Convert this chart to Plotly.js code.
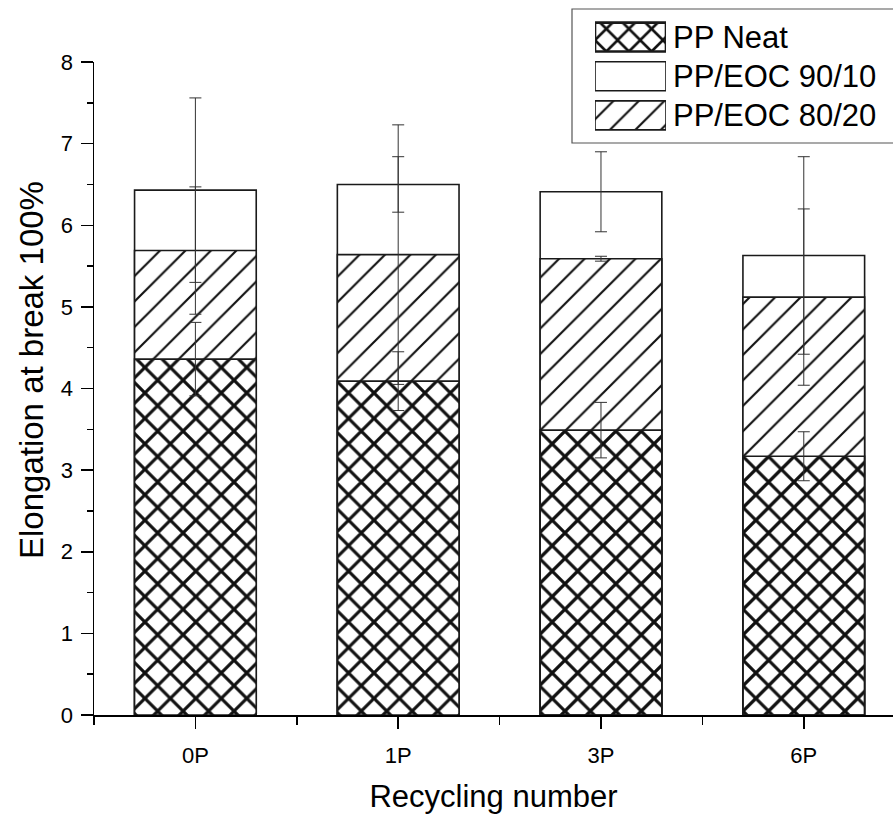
<!DOCTYPE html>
<html><head><meta charset="utf-8">
<script src="https://cdn.plot.ly/plotly-3.0.1.min.js"></script>
<style>html,body{margin:0;padding:0;background:#fff}</style>
</head><body><div id="chart" style="width:893px;height:814px"></div>
<script>
const categories = ['0P', '1P', '3P', '6P'];
const seriesNames = ['PP Neat', 'PP/EOC 90/10', 'PP/EOC 80/20'];
const neat = [4.36, 4.09, 3.49, 3.17];
const neatErr = [0.45, 0.36, 0.34, 0.30];
const eoc9010 = [6.43, 6.50, 6.41, 5.63];
const eoc9010Err = [1.13, 0.34, 0.49, 1.21];
const eoc8020 = [5.69, 5.64, 5.59, 5.12];
const eoc8020Err = [0.78, 1.59, 0.03, 1.08];
const yTicks = [0, 1, 2, 3, 4, 5, 6, 7, 8];

const W = 893, H = 814;
const FONT = 'Liberation Sans, Arial, sans-serif';
const xIdx = categories.map((_, i) => i);
const lineCol = '#1a1a1a';
const barLine = {color: lineCol, width: 1.6};
const barW = 0.6;

// in the original, the PP Neat bars of 3P and 6P have a see-through background
const neatOpaque = [true, true, false, false];

const crossPat = bg => ({shape: 'x', size: 18, solidity: 0.32, fgcolor: '#111', bgcolor: bg, fillmode: 'replace'});
const slashPat = {shape: '/', size: 18, solidity: 0.12, fgcolor: '#111', bgcolor: 'white', fillmode: 'replace'};

const traces = [
  {type: 'bar', name: seriesNames[1], x: xIdx, y: eoc9010, width: barW,
   marker: {color: 'white', line: barLine}, showlegend: false},
  {type: 'bar', name: seriesNames[2], x: xIdx, y: eoc8020, width: barW,
   marker: {color: 'white', line: barLine, pattern: slashPat}, showlegend: false},
  {type: 'bar', name: seriesNames[0], x: xIdx, y: neat.map((v, i) => neatOpaque[i] ? v : null), width: barW,
   marker: {color: 'white', line: barLine, pattern: crossPat('white')}, showlegend: false},
  {type: 'bar', name: seriesNames[0], x: xIdx, y: neat.map((v, i) => neatOpaque[i] ? null : v), width: barW,
   marker: {color: 'rgba(0,0,0,0)', line: barLine, pattern: crossPat('rgba(0,0,0,0)')}, showlegend: false}
];

const errStyle = {type: 'data', visible: true, color: '#333', thickness: 1, width: 6};
[[eoc9010, eoc9010Err], [eoc8020, eoc8020Err], [neat, neatErr]].forEach(([v, e]) => {
  traces.push({type: 'scatter', mode: 'markers', x: xIdx, y: v,
    marker: {size: 1, opacity: 0}, showlegend: false, hoverinfo: 'skip',
    error_y: Object.assign({array: e}, errStyle)});
});

// legend swatches
const swatchStyles = [
  {color: 'white', line: {color: lineCol, width: 2.6},
   pattern: {shape: 'x', size: 16, solidity: 0.3, fgcolor: '#111', bgcolor: 'white', fillmode: 'replace'}},
  {color: 'white', line: {color: lineCol, width: 1.6}},
  {color: 'white', line: {color: lineCol, width: 1.6}, pattern: slashPat}
];
seriesNames.forEach((n, k) => {
  traces.push({type: 'bar', orientation: 'h', xaxis: 'x2', yaxis: 'y2',
    y: [n], x: [1], base: 0, width: 0.74, marker: swatchStyles[k],
    showlegend: false, hoverinfo: 'skip'});
});

const px = v => v / W;
const py = v => 1 - v / H;

const layout = {
  width: W, height: H,
  margin: {l: 0, r: 0, t: 0, b: 0, autoexpand: false},
  paper_bgcolor: 'white', plot_bgcolor: 'white',
  barmode: 'overlay',
  showlegend: false,
  font: {family: FONT, color: '#000', size: 22},
  xaxis: {
    domain: [px(94), 1], range: [-0.5, 3.44], anchor: 'y',
    tickmode: 'array', tickvals: xIdx, ticktext: categories,
    ticks: 'outside', ticklen: 12, tickwidth: 1.5, tickcolor: '#000',
    showline: true, linecolor: '#000', linewidth: 1.5,
    showgrid: false, zeroline: false, automargin: false,
    ticklabelstandoff: 8,
    tickfont: {size: 22, family: FONT, color: '#000'},
    minor: {tickmode: 'array', tickvals: [-0.5, 0.5, 1.5, 2.5], ticks: 'outside', ticklen: 8, tickwidth: 1.5, tickcolor: '#000', showgrid: false},
    title: {text: 'Recycling number', font: {size: 31, family: FONT, color: '#000'}, standoff: 18}
  },
  yaxis: {
    domain: [1 - 715 / H, 1 - 62 / H], range: [0, 8], anchor: 'x',
    tickmode: 'array', tickvals: yTicks,
    ticks: 'outside', ticklen: 12, tickwidth: 1.5, tickcolor: '#000',
    showline: true, linecolor: '#000', linewidth: 1.5,
    showgrid: false, zeroline: false, automargin: false,
    ticklabelstandoff: 3,
    tickfont: {size: 22, family: FONT, color: '#000'},
    minor: {tickmode: 'array', tickvals: [0.5, 1.5, 2.5, 3.5, 4.5, 5.5, 6.5, 7.5], ticks: 'outside', ticklen: 6, tickwidth: 1.5, tickcolor: '#000', showgrid: false}
  },
  xaxis2: {domain: [px(595), px(666)], range: [0, 1], anchor: 'y2', visible: false, fixedrange: true},
  yaxis2: {
    domain: [py(135), py(17.5)], anchor: 'x2', side: 'right',
    type: 'category', categoryorder: 'array', categoryarray: seriesNames,
    range: [2.5, -0.5], showline: false, showgrid: false, zeroline: false,
    ticks: '', ticklabelstandoff: 6, automargin: false,
    tickfont: {size: 31, family: FONT, color: '#000'}
  },
  annotations: [
    {text: 'Elongation at break 100%', xref: 'paper', yref: 'paper', x: px(31), y: py(370),
     xanchor: 'center', yanchor: 'middle', textangle: -90, showarrow: false,
     font: {size: 33, family: FONT, color: '#000'}}
  ],
  shapes: [
    {type: 'rect', xref: 'paper', yref: 'paper', x0: px(572), x1: 1.01, y0: py(143), y1: py(9),
     line: {color: '#555', width: 1.2}, fillcolor: 'rgba(0,0,0,0)', layer: 'above'}
  ]
};

Plotly.newPlot('chart', traces, layout, {staticPlot: true, displayModeBar: false});
</script>
</body></html>
